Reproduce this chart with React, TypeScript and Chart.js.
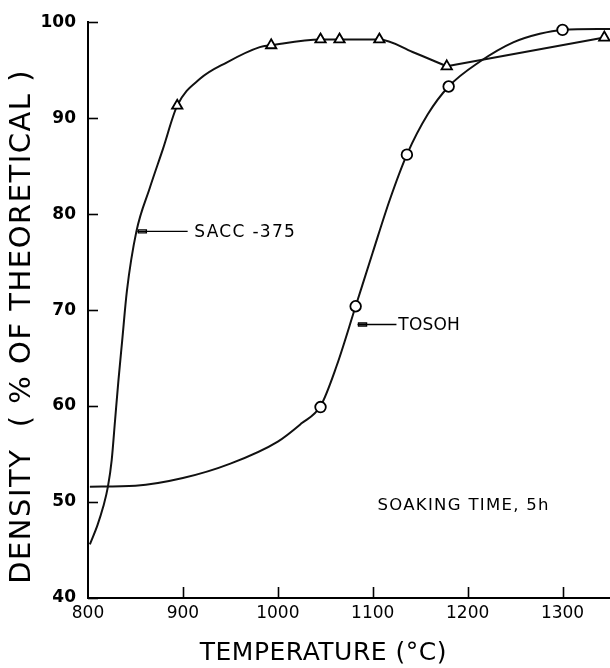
import React, { useEffect, useRef } from 'react';
import { Chart, registerables } from 'chart.js';

Chart.register(...registerables);

// Axis ticks
const xTicks = [800, 900, 1000, 1100, 1200, 1300];
const yTicks = [40, 50, 60, 70, 80, 90, 100];

// Measured points (markers)
const saccTemp = [894, 993, 1045, 1065, 1107, 1178, 1344];
const saccDensity = [91.3, 97.6, 98.2, 98.2, 98.2, 95.4, 98.4];

const tosohTemp = [1045, 1082, 1136, 1180, 1300];
const tosohDensity = [59.9, 70.4, 86.2, 93.3, 99.2];

// Hand-drawn fitted curves
const saccCurveTemp = [802, 810, 816, 821, 825, 828.5, 832, 836, 841, 851, 865, 879, 894, 918, 946, 981, 993, 1045, 1065, 1107, 1142, 1178];
const saccCurveDensity = [45.6, 47.6, 49.5, 51.6, 54.4, 58.5, 62.6, 66.8, 72.0, 78.2, 82.7, 86.8, 91.3, 94.1, 95.8, 97.4, 97.6, 98.2, 98.2, 98.2, 96.9, 95.4];
const saccTailTemp = [1178, 1344];
const saccTailDensity = [95.4, 98.4];

const tosohCurveTemp = [802, 850, 900, 950, 1000, 1025, 1045, 1062, 1082, 1100, 1118, 1136, 1158, 1180, 1213, 1248, 1276, 1300, 1350];
const tosohCurveDensity = [51.6, 51.7, 52.5, 54.0, 56.3, 58.2, 60.0, 64.2, 70.4, 76.0, 81.5, 86.2, 90.4, 93.3, 95.9, 97.9, 98.8, 99.2, 99.3];

// Annotations (data coordinates)
const saccNote = { text: 'SACC -375', from: 852, to: 905, textAt: 912, level: 78.2 };
const tosohNote = { text: 'TOSOH', from: 1084, to: 1125, textAt: 1127, level: 68.5 };
const soakNote = { text: 'SOAKING TIME, 5h', x: 1105, y: 49.6 };
const xTitle = { text: 'TEMPERATURE (°C)', x: 1048 };
const yTitle = { text: 'DENSITY  ( % OF THEORETICAL )', y: 68.3 };

const FONT = '"DejaVu Sans", sans-serif';

const pts = (xs: number[], ys: number[]) => xs.map((x, i) => ({ x, y: ys[i] }));

const decorPlugin = {
  id: 'decor',
  afterDraw(chart: any) {
    const { ctx, chartArea, scales } = chart;
    const x = scales.x;
    const y = scales.y;
    ctx.save();
    ctx.strokeStyle = '#000';
    ctx.fillStyle = '#000';
    ctx.lineWidth = 1.6;
    // inward ticks
    for (const v of yTicks) {
      const py = Math.round(y.getPixelForValue(v)) + 0.5;
      ctx.beginPath();
      ctx.moveTo(chartArea.left, py);
      ctx.lineTo(chartArea.left + 10, py);
      ctx.stroke();
    }
    for (const v of xTicks) {
      if (v === 800) continue;
      const px = Math.round(x.getPixelForValue(v)) + 0.5;
      ctx.beginPath();
      ctx.moveTo(px, chartArea.bottom);
      ctx.lineTo(px, chartArea.bottom - 11);
      ctx.stroke();
    }
    // leaders
    ctx.lineWidth = 1.4;
    for (const n of [saccNote, tosohNote]) {
      const py = y.getPixelForValue(n.level);
      const x1 = x.getPixelForValue(n.from);
      const x2 = x.getPixelForValue(n.to);
      ctx.beginPath();
      ctx.moveTo(x1, py);
      ctx.lineTo(x2, py);
      ctx.stroke();
      ctx.beginPath();
      ctx.rect(x1 + 1, py - 1.5, 8, 3);
      ctx.stroke();
      ctx.font = `17px ${FONT}`;
      (ctx as any).letterSpacing = n === saccNote ? '1.3px' : '0.2px';
      ctx.textAlign = 'left';
      ctx.textBaseline = 'middle';
      ctx.fillText(n.text, x.getPixelForValue(n.textAt), py + 1);
    }
    ctx.font = `16.5px ${FONT}`;
    (ctx as any).letterSpacing = '1.3px';
    ctx.textAlign = 'left';
    ctx.textBaseline = 'middle';
    ctx.fillText(soakNote.text, x.getPixelForValue(soakNote.x), y.getPixelForValue(soakNote.y));
    // axis titles
    ctx.font = `25px ${FONT}`;
    (ctx as any).letterSpacing = '0.5px';
    ctx.textAlign = 'center';
    ctx.textBaseline = 'middle';
    ctx.fillText(xTitle.text, x.getPixelForValue(xTitle.x), chartArea.bottom + 55);
    ctx.translate(22, y.getPixelForValue(yTitle.y));
    ctx.rotate(-Math.PI / 2);
    ctx.font = `29px ${FONT}`;
    (ctx as any).letterSpacing = '1.5px';
    ctx.fillText(yTitle.text, 0, 0);
    ctx.restore();
  },
};

export default function App() {
  const ref = useRef<HTMLCanvasElement>(null);
  useEffect(() => {
    const lineStyle = {
      showLine: true,
      borderColor: '#111',
      borderWidth: 2,
      pointRadius: 0,
      pointHoverRadius: 0,
      fill: false,
    };
    const chart = new Chart(ref.current as HTMLCanvasElement, {
      type: 'scatter',
      data: {
        datasets: [
          {
            label: 'SACC-375',
            data: pts(saccTemp, saccDensity),
            pointStyle: 'triangle',
            pointRadius: 6,
            borderColor: '#000',
            backgroundColor: '#fff',
            borderWidth: 1.8,
            order: 0,
          },
          {
            label: 'TOSOH',
            data: pts(tosohTemp, tosohDensity),
            pointStyle: 'circle',
            pointRadius: 5.3,
            borderColor: '#000',
            backgroundColor: '#fff',
            borderWidth: 1.8,
            order: 0,
          },
          { label: 'sacc curve', data: pts(saccCurveTemp, saccCurveDensity), cubicInterpolationMode: 'monotone', order: 1, ...lineStyle },
          { label: 'sacc tail', data: pts(saccTailTemp, saccTailDensity), tension: 0, order: 1, ...lineStyle },
          { label: 'tosoh curve', data: pts(tosohCurveTemp, tosohCurveDensity), cubicInterpolationMode: 'monotone', order: 1, ...lineStyle },
        ] as any,
      },
      options: {
        responsive: false,
        animation: false,
        devicePixelRatio: 1,
        layout: { autoPadding: false, padding: { top: 20, right: 0, left: 0, bottom: 0 } },
        plugins: { legend: { display: false }, tooltip: { enabled: false } },
        scales: {
          x: {
            type: 'linear',
            min: 800,
            max: 1350,
            afterBuildTicks: (s: any) => { s.ticks = xTicks.map((v) => ({ value: v })); },
            afterFit: (s: any) => { s.height = 70; },
            grid: { display: false, drawTicks: false },
            border: { display: true, width: 2, color: '#000' },
            ticks: { color: '#000', font: { family: FONT, size: 17 }, padding: 5, maxRotation: 0, autoSkip: false, callback: (v: any) => String(v) },
          },
          y: {
            type: 'linear',
            min: 40,
            max: 100,
            afterBuildTicks: (s: any) => { s.ticks = yTicks.map((v) => ({ value: v })); },
            afterFit: (s: any) => { s.width = 88; },
            grid: { display: false, drawTicks: false },
            border: { display: true, width: 2, color: '#000' },
            ticks: { color: '#000', font: { family: FONT, size: 17, weight: 'bold' }, padding: 12, callback: (v: any) => String(v) },
          },
        },
      } as any,
      plugins: [decorPlugin],
    });
    return () => chart.destroy();
  }, []);
  return (
    <div style={{ position: 'absolute', left: 0, top: 0, width: 610, height: 668, background: '#fff' }}>
      <canvas ref={ref} width={610} height={668} style={{ display: 'block', width: 610, height: 668 }} />
    </div>
  );
}
